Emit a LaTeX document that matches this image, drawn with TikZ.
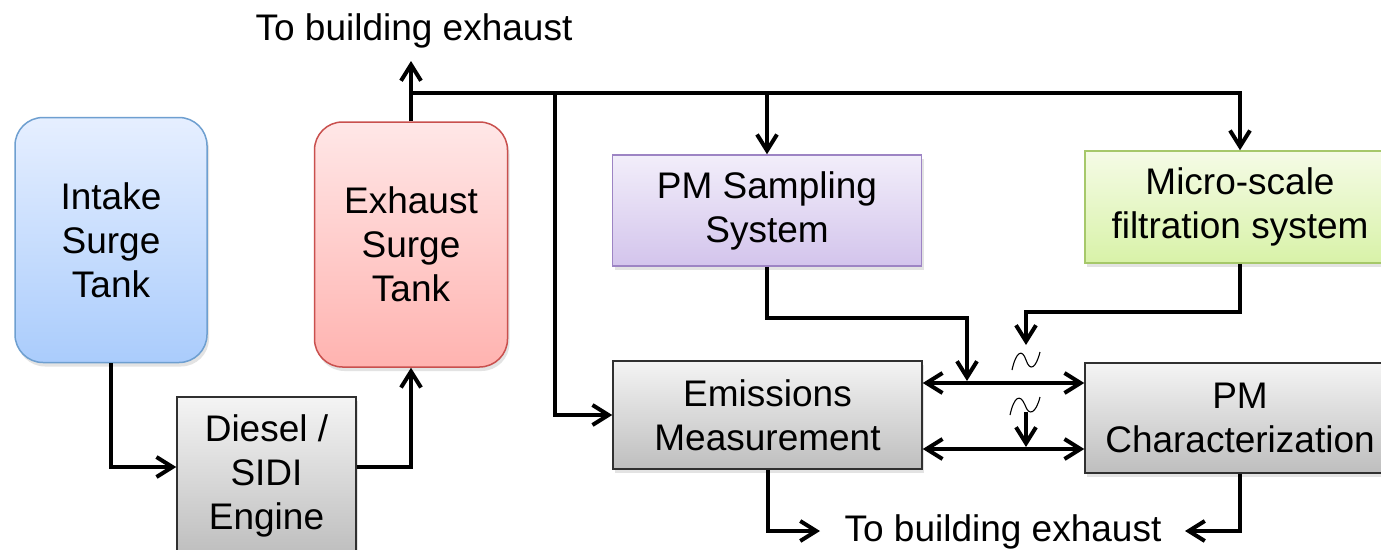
\documentclass[tikz,border=0pt]{standalone}
\usepackage{fontspec}
\setmainfont{Liberation Sans}
\usetikzlibrary{arrows.meta,shadows}
\definecolor{inTop}{HTML}{E6EFFF}\definecolor{inBot}{HTML}{AACCFC}\definecolor{inLine}{HTML}{6E9FD0}
\definecolor{exTop}{HTML}{FFE7E7}\definecolor{exBot}{HTML}{FFB3B0}\definecolor{exLine}{HTML}{C9504E}
\definecolor{pmTop}{HTML}{F2EEFA}\definecolor{pmBot}{HTML}{D3C4EC}\definecolor{pmLine}{HTML}{9D84C4}
\definecolor{miTop}{HTML}{F5FBE6}\definecolor{miBot}{HTML}{D8F2A8}\definecolor{miLine}{HTML}{A6C86A}
\definecolor{grTop}{HTML}{F4F4F4}\definecolor{grBot}{HTML}{BEBEBE}\definecolor{grLine}{HTML}{303030}
\begin{document}
\begin{tikzpicture}[x=1pt,y=-1pt,
  box/.style={draw, line width=1.5pt, inner sep=0pt, align=center,
    font=\fontsize{37}{44}\selectfont,
    drop shadow={shadow xshift=2pt,shadow yshift=-4pt,opacity=0.22}},
  tank/.style={box, rounded corners=28pt},
  intakebox/.style={tank, draw=inLine, top color=inTop, bottom color=inBot},
  exhaustbox/.style={tank, draw=exLine, top color=exTop, bottom color=exBot},
  pmsbox/.style={box, draw=pmLine, top color=pmTop, bottom color=pmBot},
  microbox/.style={box, draw=miLine, top color=miTop, bottom color=miBot},
  graybox/.style={box, draw=grLine, top color=grTop, bottom color=grBot},
  lbl/.style={inner sep=0pt, font=\fontsize{37}{44}\selectfont},
  conn/.style={line width=4pt, -{Straight Barb[length=16pt,width=20pt]}},
  dconn/.style={line width=4pt, {Straight Barb[length=16pt,width=20pt]}-{Straight Barb[length=16pt,width=20pt]}},
  wave/.style={line width=1.1pt}]
\useasboundingbox (0,0) rectangle (1381,549);
\fill[white] (0,0) rectangle (1381,549);

% nodes
\node[intakebox, minimum width=192pt, minimum height=245pt] (intake) at (111,240) {Intake\\Surge\\Tank};
\node[exhaustbox, minimum width=193pt, minimum height=245pt] (exhaust) at (411,244.5) {Exhaust\\Surge\\Tank};
\node[graybox, minimum width=179pt, minimum height=158pt] (engine) at (266.5,476) {Diesel /\\SIDI\\Engine};
\node[pmsbox, minimum width=309pt, minimum height=111pt] (pms) at (767,210.5) {PM Sampling\\System};
\node[microbox, minimum width=310pt, minimum height=112pt] (micro) at (1240,207) {Micro-scale\\filtration system};
\node[graybox, minimum width=309pt, minimum height=108pt] (emis) at (767.5,415) {Emissions\\Measurement};
\node[graybox, minimum width=310pt, minimum height=110pt] (pmc) at (1240,418) {PM\\Characterization};

\node[lbl] (toptxt) at (414,31) {To building exhaust};
\node[lbl] (bottxt) at (1003,532) {To building exhaust};

% named free ends
\coordinate (topout) at (411,61);
\coordinate (bj) at (555,93);
\coordinate (j2) at (967,381);
\coordinate (w1) at (1026,345);
\coordinate (w2) at (1026,412);
\coordinate (j3) at (1026,447);
\coordinate (b1) at (820,531);
\coordinate (b2) at (1185,531);

% connectors
\draw[conn] (intake.south) |- (engine.west |- 0,467);
\draw[conn] (engine.east |- 0,467) -| (exhaust.south);
\draw[conn] (exhaust.north) -- (topout);
\draw[conn] (exhaust.north |- 0,93) -| (micro.north);
\draw[conn] (bj) |- (emis.west |- 0,415);
\draw[conn] (pms.north |- 0,93) -- (pms.north);
\draw[conn] (pms.south) |- (967,318) -- (j2);
\draw[conn] (micro.south) |- (1026,312) -- (w1);
\draw[dconn] (emis.east |- 0,383) -- (pmc.west |- 0,383);
\draw[dconn] (emis.east |- 0,449) -- (pmc.west |- 0,449);
\draw[conn] (w2) -- (j3);
\draw[conn] (emis.south) |- (b1);
\draw[conn] (pmc.south) |- (b2);

% tildes
\draw[wave] (1012,370) .. controls (1016,352) and (1022,348) .. (1026,360) .. controls (1030,372) and (1036,368) .. (1040,352);
\draw[wave] (1010,415) .. controls (1014,397) and (1020,393) .. (1025,405) .. controls (1029,417) and (1036,413) .. (1040,397);
\end{tikzpicture}
\end{document}
